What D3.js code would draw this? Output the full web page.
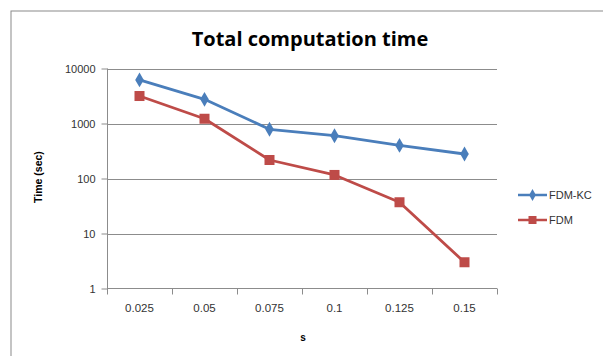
<!DOCTYPE html>
<html><head><meta charset="utf-8">
<script src="https://cdn.jsdelivr.net/npm/d3@7"></script>
<style>body{margin:0;background:#fff}svg{display:block}</style>
</head><body>
<script>
const categories = ["0.025","0.05","0.075","0.1","0.125","0.15"];
const fdmKC = [6200, 2750, 785, 600, 400, 279];
const fdm = [3160, 1220, 217, 116, 37, 3];
const yTicks = [1, 10, 100, 1000, 10000];
const seriesNames = ["FDM-KC","FDM"];
const colors = ["#4a7ebb","#be4b48"];

const W=603,H=356;
const svg=d3.select("body").append("svg").attr("width",W).attr("height",H);
svg.append("rect").attr("x",11).attr("y",11).attr("width",620).attr("height",360)
  .attr("fill","#fff").attr("stroke","#8a8a8a").attr("stroke-width",1);

const x=d3.scaleBand().domain(categories).range([107,497]);
const y=d3.scaleLog().domain([1,10000]).range([288.5,68.5]);

// gridlines
svg.append("g").selectAll("line").data(yTicks.slice(1)).join("line")
  .attr("x1",107).attr("x2",497).attr("y1",d=>Math.round(y(d))+0.5).attr("y2",d=>Math.round(y(d))+0.5)
  .attr("stroke","#8c8c8c").attr("stroke-width",1);

// y axis
const ya=svg.append("g").attr("transform","translate(107.5,0)")
  .call(d3.axisLeft(y).tickValues(yTicks).tickFormat(d3.format("d")).tickSize(6).tickPadding(6));
ya.select(".domain").attr("stroke","#8c8c8c").attr("d","M0,68.5V288.5");
ya.selectAll(".tick line").attr("stroke","#8c8c8c");
ya.selectAll(".tick text").attr("font-family","Liberation Sans, Arial, sans-serif").attr("font-size",11).attr("fill","#333");

// x axis
const xa=svg.append("g").attr("transform","translate(0,288.5)")
  .call(d3.axisBottom(x).tickSize(0).tickPadding(15));
xa.select(".domain").attr("stroke","#8c8c8c").attr("d","M107,0H497");
xa.selectAll(".tick text").attr("font-family","Liberation Sans, Arial, sans-serif").attr("font-size",11.5).attr("fill","#333");
svg.append("g").selectAll("line").data(categories.map((c,i)=>i).concat([categories.length]))
  .join("line")
  .attr("x1",i=>Math.round(107+i*x.step())+0.5).attr("x2",i=>Math.round(107+i*x.step())+0.5)
  .attr("y1",288.5).attr("y2",294.5).attr("stroke","#8c8c8c");

// title & labels
svg.append("text").attr("x",310).attr("y",46).attr("text-anchor","middle")
  .attr("font-family","'Open Sans', Lato, sans-serif").attr("font-weight","bold").attr("font-size",20)
  .attr("fill","#000").text("Total computation time");
svg.append("text").attr("transform","translate(42,177) rotate(-90)").attr("text-anchor","middle")
  .attr("font-family","Liberation Sans, Arial, sans-serif").attr("font-weight","bold").attr("font-size",10.5)
  .text("Time (sec)");
svg.append("text").attr("x",303).attr("y",341).attr("text-anchor","middle")
  .attr("font-family","Liberation Sans, Arial, sans-serif").attr("font-weight","bold").attr("font-size",10)
  .text("s");

const cx=c=>x(c)+x.bandwidth()/2;
const line=d3.line().x((d,i)=>cx(categories[i])).y(d=>y(d));
[fdmKC,fdm].forEach((s,k)=>{
  svg.append("path").datum(s).attr("d",line).attr("fill","none")
    .attr("stroke",colors[k]).attr("stroke-width",2.8).attr("stroke-linejoin","round");
});
const diamond=d3.symbol().type(d3.symbolDiamond).size(64);
svg.append("g").selectAll("path").data(fdmKC).join("path")
  .attr("transform",(d,i)=>`translate(${cx(categories[i])},${y(d)})`).attr("d",diamond).attr("fill",colors[0]);
svg.append("g").selectAll("rect").data(fdm).join("rect")
  .attr("x",(d,i)=>cx(categories[i])-5).attr("y",d=>y(d)-5).attr("width",10).attr("height",10).attr("fill",colors[1]);

// legend
const lg=svg.append("g");
const legDiamond=d3.symbol().type(d3.symbolDiamond).size(40);
seriesNames.forEach((n,k)=>{
  const ly=195+k*25;
  lg.append("line").attr("x1",518).attr("x2",547).attr("y1",ly).attr("y2",ly).attr("stroke",colors[k]).attr("stroke-width",2.5);
  if(k===0) lg.append("path").attr("transform",`translate(532.5,${ly})`).attr("d",legDiamond).attr("fill",colors[0]);
  else lg.append("rect").attr("x",528.5).attr("y",ly-4).attr("width",8).attr("height",8).attr("fill",colors[1]);
  lg.append("text").attr("x",549).attr("y",ly+4).attr("font-family","Liberation Sans, Arial, sans-serif")
    .attr("font-size",11).attr("fill","#333").text(n);
});
</script>
</body></html>
